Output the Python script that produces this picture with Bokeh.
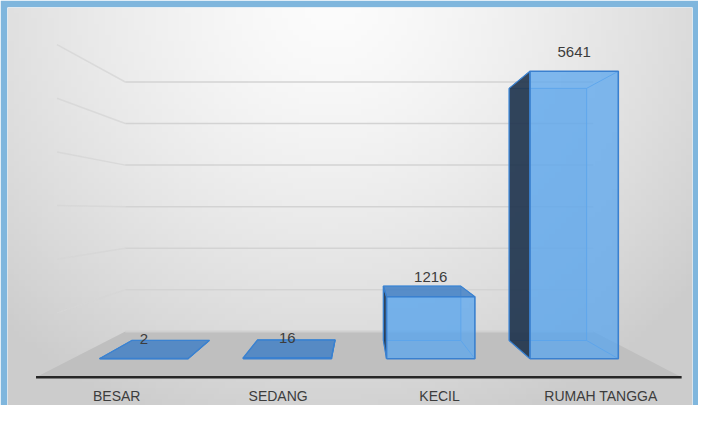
import numpy as np
from bokeh.plotting import figure
from bokeh.models import ColumnDataSource, Range1d
from bokeh.core.properties import value
from bokeh.embed import file_html
from bokeh.resources import INLINE

# ---------------- data ----------------
categories = ["BESAR", "SEDANG", "KECIL", "RUMAH TANGGA"]
counts = [2, 16, 1216, 5641]
grid_values = [1000, 2000, 3000, 4000, 5000, 6000]

# ---------------- layout / style ----------------
W, H = 698, 405
BORDER_L, BORDER_T, BORDER_R = 7, 7, 6
CAT_PX = 125.8          # px per category on the bars' back plane
VAL_PX = 0.0447         # px per unit of value on the bars' back plane
ORIGIN_X = 170.0        # x of first category (back plane), figure px
ORIGIN_Y = 340.0        # y of value 0 (back plane), figure px
EYE_X, EYE_Y = 360.0, 210.0   # vanishing point (figure px)
K_WALL, K_BACK, K_FRONT, K_FLOOR = 0.93, 1.0, 1.14, 1.283
BAR_W = 0.616

frame_left, frame_right = BORDER_L, W - BORDER_R
frame_top, frame_bottom = BORDER_T, H

x_start = (frame_left - ORIGIN_X) / CAT_PX
x_end = (frame_right - ORIGIN_X) / CAT_PX
y_start = (ORIGIN_Y - frame_bottom) / VAL_PX
y_end = (ORIGIN_Y - frame_top) / VAL_PX

VX = (EYE_X - ORIGIN_X) / CAT_PX
VY = (ORIGIN_Y - EYE_Y) / VAL_PX


def proj(x, y, k):
    x = np.asarray(x, dtype=float)
    y = np.asarray(y, dtype=float)
    return list(VX + (x - VX) * k), list(VY + (y - VY) * k)


p = figure(width=W, height=H, output_backend="svg", toolbar_location=None,
           x_range=Range1d(x_start, x_end), y_range=Range1d(y_start, y_end),
           min_border_left=BORDER_L, min_border_right=BORDER_R,
           min_border_top=BORDER_T, min_border_bottom=0,
           border_fill_color="#7fb6dd", outline_line_color=None)
p.axis.visible = False
p.grid.visible = False

# ---------------- background gradient ----------------
nx, ny = 120, 70
gx = np.linspace(frame_left, frame_right, nx)
gy = np.linspace(frame_bottom, frame_top, ny)   # row 0 = bottom
GX, GY = np.meshgrid(gx, gy)
d = np.sqrt((GX - 330) ** 2 + ((GY - 0) * 1.05) ** 2)
c = 252 - 44 * (d / 450) ** 1.4
c = np.clip(c, 204, 252).astype(np.uint8)
img = np.zeros((ny, nx), dtype=np.uint32)
view = img.view(dtype=np.uint8).reshape((ny, nx, 4))
view[:, :, 0] = c
view[:, :, 1] = c
view[:, :, 2] = c
view[:, :, 3] = 255
p.image_rgba(image=[img], x=x_start, y=y_start, dw=x_end - x_start, dh=y_end - y_start)

n = len(categories)
left_edge, right_edge = -0.5, n - 0.5

# ---------------- floor ----------------
bx, by = proj([left_edge, right_edge], [0, 0], K_WALL)
fx, fy = proj([right_edge, left_edge], [0, 0], K_FLOOR)
p.patch(bx + fx, by + fy, fill_color="#bfbfbf", line_color=None)
p.line(bx, by, line_color="#d0d0d0", line_width=2)
p.line(fx, fy, line_color="#262626", line_width=2.5)

# ---------------- wall gridlines ----------------
gxs, gys = [], []
for gv in grid_values:
    ax, ay = proj([left_edge, right_edge], [gv, gv], K_WALL)
    gxs.append(ax); gys.append(ay)
p.multi_line(gxs, gys, line_color="#d3d3d3", line_width=1.5)
sxs, sys_ = [], []
for gv in grid_values:
    a1x, a1y = proj([left_edge], [gv], K_WALL)
    a2x, a2y = proj([left_edge], [gv], 1.2)
    sxs.append(a2x + a1x); sys_.append(a2y + a1y)
p.multi_line(sxs, sys_, line_color="#d6d6d6", line_width=1.5, line_alpha=0.8)

# ---------------- bars ----------------
back = dict(xs=[], ys=[])
front = dict(xs=[], ys=[])
side = dict(xs=[], ys=[])
top = dict(xs=[], ys=[])
inner = dict(xs=[], ys=[])
outer = dict(xs=[], ys=[])

for i, v in enumerate(counts):
    xl, xr = i - BAR_W / 2, i + BAR_W / 2
    rx = [xl, xr, xr, xl]
    ry = [0, 0, v, v]
    x1, y1 = proj(rx, ry, K_BACK)
    x2, y2 = proj(rx, ry, K_FRONT)
    back["xs"].append(x1); back["ys"].append(y1)
    front["xs"].append(x2); front["ys"].append(y2)
    sx = xl if i > VX else xr
    a, b = proj([sx, sx], [0, v], K_BACK)
    c2, d2 = proj([sx, sx], [v, 0], K_FRONT)
    side["xs"].append(a + c2); side["ys"].append(b + d2)
    if v < VY:
        a, b = proj([xl, xr], [v, v], K_BACK)
        c2, d2 = proj([xr, xl], [v, v], K_FRONT)
        top["xs"].append(a + c2); top["ys"].append(b + d2)
    inner["xs"].append(x1 + x1[:1]); inner["ys"].append(y1 + y1[:1])
    outer["xs"].append(x2 + x2[:1]); outer["ys"].append(y2 + y2[:1])
    for cx, cy in zip(rx, ry):
        ex, ey = proj([cx, cx], [cy, cy], 1)
        fx2, fy2 = proj([cx], [cy], K_FRONT)
        inner["xs"].append([ex[0], fx2[0]]); inner["ys"].append([ey[0], fy2[0]])

p.patches("xs", "ys", source=ColumnDataSource(back), fill_color="#5b9bd5",
          fill_alpha=0.2, line_color=None)
p.multi_line("xs", "ys", source=ColumnDataSource(inner), line_color="#5a9fe6",
             line_width=1.0, line_alpha=0.85)
p.patches("xs", "ys", source=ColumnDataSource(side), fill_color="#1a2f48",
          fill_alpha=0.88, line_color="#3b82d0", line_width=1.2)
p.patches("xs", "ys", source=ColumnDataSource(top), fill_color="#3e7ec4",
          fill_alpha=0.82, line_color="#3b82d0", line_width=1.2)
p.patches("xs", "ys", source=ColumnDataSource(front), fill_color="#5aa5ee",
          fill_alpha=0.75, line_color=None)
p.multi_line("xs", "ys", source=ColumnDataSource(outer), line_color="#3a80cf",
             line_width=1.6)

# ---------------- labels ----------------
vx, vy = proj(list(range(n)), counts, K_FRONT)
p.text(vx, vy, text=[str(v) for v in counts], text_align="center",
       text_baseline="middle", y_offset=-19.5, text_font=value("Liberation Sans"),
       text_font_size="15px", text_color="#3c3c3c")
cx_, cy_ = proj(list(range(n)), [0] * n, K_FLOOR)
p.text(cx_, cy_, text=categories, text_align="center", text_baseline="middle",
       y_offset=18.5, text_font=value("Liberation Sans"), text_font_size="14px",
       text_color="#3c3c3c")

open("out.html", "w").write(file_html(p, INLINE))
